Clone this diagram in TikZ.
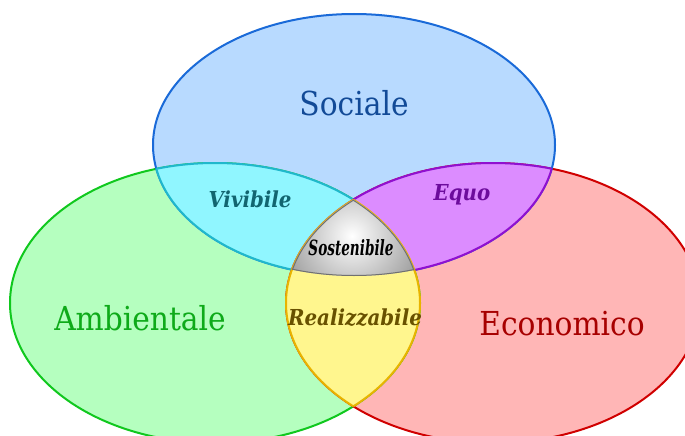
\documentclass[tikz,border=0pt]{standalone}
\usepackage{fontspec}
\setmainfont{DejaVu Serif Condensed}
\definecolor{socfill}{HTML}{B8DAFF}
\definecolor{socline}{HTML}{1A6AD8}
\definecolor{ambfill}{HTML}{B5FFBF}
\definecolor{ambline}{HTML}{10C81E}
\definecolor{ecofill}{HTML}{FFB6B6}
\definecolor{ecoline}{HTML}{D00000}
\definecolor{vivfill}{HTML}{90F6FF}
\definecolor{vivline}{HTML}{20B8CC}
\definecolor{equfill}{HTML}{DC8CFF}
\definecolor{equline}{HTML}{9010D0}
\definecolor{reafill}{HTML}{FFF68E}
\definecolor{realine}{HTML}{E8B400}
\definecolor{sosline}{HTML}{707070}
\def\sociale{(354,145) ellipse [x radius=201pt, y radius=131pt]}
\def\ambientale{(215,303) ellipse [x radius=205pt, y radius=140pt]}
\def\economico{(493,303) ellipse [x radius=207pt, y radius=140pt]}
\tikzset{
  bigtext/.style={font=\fontsize{33}{36}\selectfont},
  smalltext/.style={font=\fontsize{22}{25}\selectfont\bfseries\itshape}
}
\begin{document}
\begin{tikzpicture}[x=1pt, y=-1pt, line width=2pt]
\useasboundingbox (0,0) rectangle (685,436);
\clip (0,0) rectangle (685,436);
% the three sets
\fill[ambfill] \ambientale;
\fill[ecofill] \economico;
\fill[socfill] \sociale;
\draw[ambline] \ambientale;
\draw[ecoline] \economico;
\draw[socline] \sociale;
% pairwise parts
\begin{scope}
    \clip \sociale;
    \fill[vivfill] \ambientale;
    \draw[vivline] \ambientale;
\end{scope}
\begin{scope}
    \clip \ambientale;
    \draw[vivline] \sociale;
\end{scope}
\begin{scope}
    \clip \sociale;
    \fill[equfill] \economico;
    \draw[equline] \economico;
\end{scope}
\begin{scope}
    \clip \economico;
    \draw[equline] \sociale;
\end{scope}
\begin{scope}
    \clip \ambientale;
    \fill[reafill] \economico;
    \draw[realine] \economico;
\end{scope}
\begin{scope}
    \clip \economico;
    \draw[realine] \ambientale;
\end{scope}
% middle part
\begin{scope}
    \clip \sociale;
    \clip \ambientale;
    \clip \economico;
    \shade[inner color=white, outer color=black!40] (352,236) circle [radius=75pt];
    \draw[sosline] \sociale;
    \draw[sosline] \ambientale;
    \draw[sosline] \economico;
\end{scope}
% labels
\node[bigtext, text=socline!70!black] (soc) at (354,103) {Sociale};
\node[bigtext, text=ambline!85!black] (amb) at (140,318) {Ambientale};
\node[bigtext, text=ecoline!80!black] (eco) at (562,324) {Economico};
\node[smalltext, text=vivline!55!black] (viv) at (250,199) {Vivibile};
\node[smalltext, text=equline!75!black] (equ) at (462,195) {Equo};
\node[smalltext, text=realine!45!black] (rea) at (355,318) {Realizzabile};
\node[font=\fontsize{21}{24}\selectfont\bfseries\itshape, xscale=0.72] (sos) at (351,248) {Sostenibile};
\end{tikzpicture}
\end{document}
